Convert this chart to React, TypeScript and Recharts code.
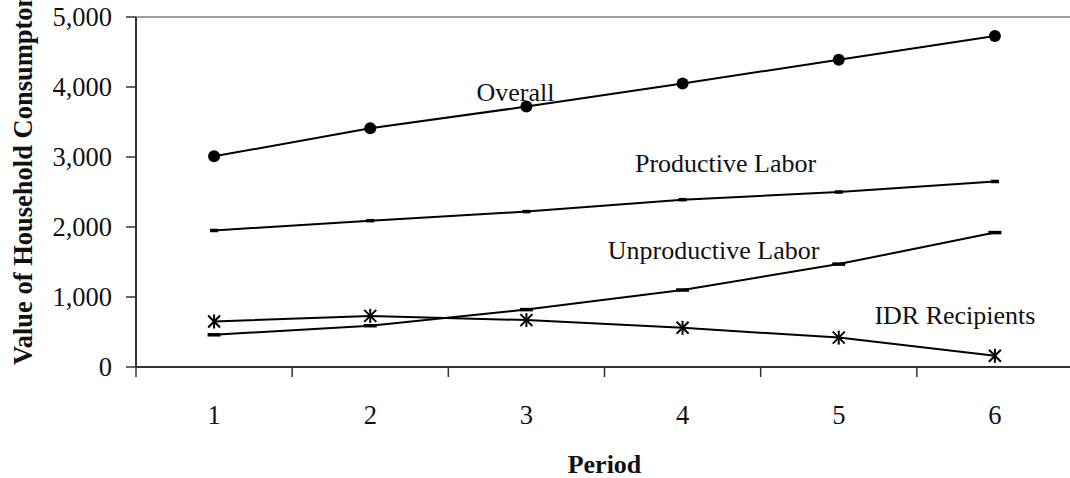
import { LineChart, Line, XAxis, YAxis, ReferenceLine, LabelList } from "recharts";

// household consumption value by period
const periods = [1, 2, 3, 4, 5, 6];
const overall = [3010, 3410, 3720, 4050, 4390, 4730];
const productive = [1950, 2090, 2220, 2390, 2500, 2650];
const unproductive = [460, 590, 820, 1100, 1470, 1920];
const idr = [650, 730, 670, 560, 420, 160];

const yTicks = [0, 1000, 2000, 3000, 4000, 5000];
// tick marks sit between periods, labels under each period
const xTicks = [0.5, 1, 1.5, 2, 2.5, 3, 3.5, 4, 4.5, 5, 5.5, 6, 6.5];

const data = periods.map((p, i) => ({
  period: p,
  overall: overall[i],
  productive: productive[i],
  unproductive: unproductive[i],
  idr: idr[i],
}));

const FONT = "'Liberation Serif', 'Times New Roman', serif";

function PeriodTick(props: any) {
  const { x, y, payload } = props;
  const v = payload.value;
  if (!Number.isInteger(v)) {
    return <line x1={x} x2={x} y1={y - 10} y2={y} stroke="#333" strokeWidth={1.5} />;
  }
  return (
    <text x={x} y={y + 47} textAnchor="middle" fontSize={26.5} fill="#111" fontFamily={FONT}>
      {v}
    </text>
  );
}

const CircleDot = (p: any) => <circle key={p.key} cx={p.cx} cy={p.cy} r={6} fill="#000" />;

const dash = (w: number) => (p: any) =>
  <rect key={p.key} x={p.cx - w / 2} y={p.cy - 1.75} width={w} height={3.5} fill="#000" />;

const StarDot = (p: any) => (
  <g key={p.key} stroke="#000" strokeWidth={2}>
    <line x1={p.cx - 6} y1={p.cy - 6} x2={p.cx + 6} y2={p.cy + 6} />
    <line x1={p.cx - 6} y1={p.cy + 6} x2={p.cx + 6} y2={p.cy - 6} />
    <line x1={p.cx} y1={p.cy - 7} x2={p.cx} y2={p.cy + 7} />
  </g>
);

// name written next to one chosen point of a series
const seriesName = (text: string, at: number, dx: number, dy: number) => (p: any) =>
  p.index === at ? (
    <text x={p.x + dx} y={p.y + dy} textAnchor="middle" fontSize={26} fill="#111" fontFamily={FONT}>
      {text}
    </text>
  ) : null;

export default function App() {
  return (
    <div
      style={{
        position: "absolute",
        left: 0,
        top: 0,
        width: 1070,
        height: 478,
        overflow: "hidden",
        background: "#fff",
        fontFamily: FONT,
      }}
    >
      <LineChart width={1090} height={478} data={data} margin={{ top: 17, right: 17, bottom: 0, left: 36 }}>
        <XAxis
          dataKey="period"
          type="number"
          domain={[0.5, 6.5]}
          ticks={xTicks}
          interval={0}
          tick={<PeriodTick />}
          tickLine={false}
          tickSize={10}
          tickMargin={0}
          height={111}
          axisLine={{ stroke: "#333", strokeWidth: 2 }}
          label={{
            content: ({ viewBox }: any) => (
              <text
                x={viewBox.x + viewBox.width / 2}
                y={viewBox.y + 106}
                textAnchor="middle"
                fontSize={26}
                fontWeight="bold"
                fill="#111"
                fontFamily={FONT}
              >
                Period
              </text>
            ),
          }}
        />
        <YAxis
          domain={[0, 5000]}
          ticks={yTicks}
          width={100}
          tickSize={10}
          tickMargin={14}
          tickFormatter={(v: number) => v.toLocaleString("en-US")}
          tick={{ fontSize: 26.5, fill: "#111", fontFamily: FONT }}
          tickLine={{ stroke: "#333", strokeWidth: 1.5 }}
          axisLine={{ stroke: "#333", strokeWidth: 2 }}
          label={{
            content: ({ viewBox }: any) => (
              <text
                transform={`translate(${viewBox.x - 4},${viewBox.y + viewBox.height - 2}) rotate(-90)`}
                fontSize={26.5}
                fontWeight="bold"
                fill="#111"
                fontFamily={FONT}
              >
                Value of Household Consumpton
              </text>
            ),
          }}
        />
        <ReferenceLine y={5000} stroke="#a0a0a0" strokeWidth={2} />
        <Line dataKey="overall" stroke="#000" strokeWidth={2} dot={CircleDot} isAnimationActive={false}>
          <LabelList content={seriesName("Overall", 2, -11, -6)} />
        </Line>
        <Line dataKey="productive" stroke="#000" strokeWidth={2} dot={dash(8)} isAnimationActive={false}>
          <LabelList content={seriesName("Productive Labor", 3, 43, -28)} />
        </Line>
        <Line dataKey="unproductive" stroke="#000" strokeWidth={2} dot={dash(13)} isAnimationActive={false}>
          <LabelList content={seriesName("Unproductive Labor", 3, 31, -31)} />
        </Line>
        <Line dataKey="idr" stroke="#000" strokeWidth={2} dot={StarDot} isAnimationActive={false}>
          <LabelList content={seriesName("IDR Recipients", 5, -40, -32)} />
        </Line>
      </LineChart>
    </div>
  );
}
